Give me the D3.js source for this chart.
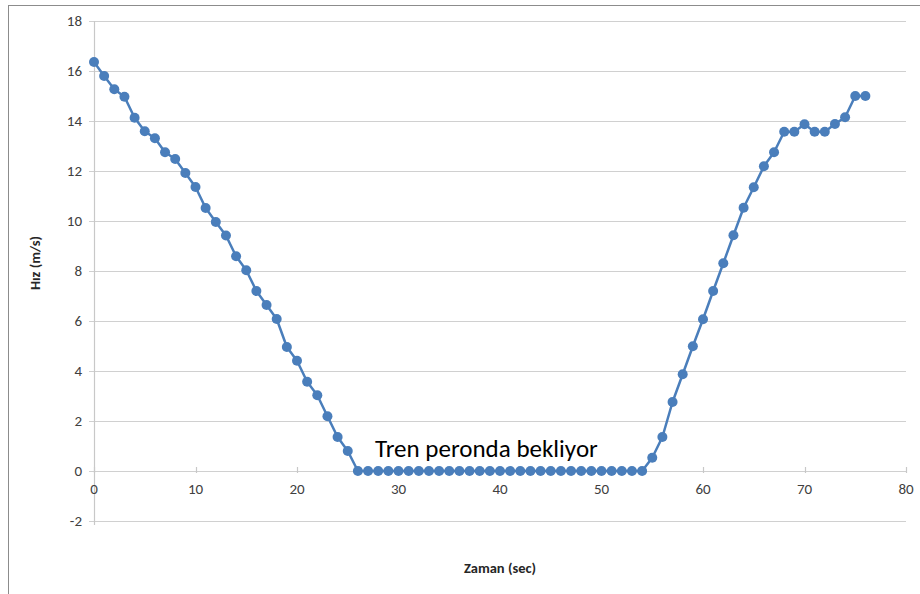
<!DOCTYPE html>
<html><head><meta charset="utf-8">
<script src="https://cdn.jsdelivr.net/npm/d3@7"></script>
<style>body{margin:0;background:#fff;} svg{display:block;}</style>
</head><body>
<svg id="c" width="920" height="594"></svg>
<script>
const times = d3.range(0, 77);
const speeds = [16.36,15.8,15.27,14.97,14.13,13.59,13.31,12.75,12.48,11.92,
11.36,10.52,9.96,9.42,8.59,8.03,7.2,6.64,6.08,4.96,
4.41,3.57,3.03,2.19,1.36,0.8,0,0,0,0,
0,0,0,0,0,0,0,0,0,0,
0,0,0,0,0,0,0,0,0,0,
0,0,0,0,0,0.53,1.36,2.76,3.87,4.99,
6.07,7.2,8.31,9.43,10.53,11.35,12.19,12.75,13.57,13.57,
13.87,13.57,13.57,13.88,14.15,15.0,15.0];
const xTicks = [0,10,20,30,40,50,60,70,80];
const yTicks = [-2,0,2,4,6,8,10,12,14,16,18];
const xTitle = "Zaman (sec)";
const yTitle = "Hız (m/s)";
const note = "Tren peronda bekliyor";

const svg = d3.select("#c");
const font = "Calibri, Carlito, 'Open Sans', sans-serif";
// outer chart frame
svg.append("rect").attr("x",8.5).attr("y",5.5).attr("width",1000).attr("height",1000)
  .attr("fill","none").attr("stroke","#8c8c8c").attr("stroke-width",1);

const x = d3.scaleLinear().domain([0,80]).range([94,906]);
const y = d3.scaleLinear().domain([-2,18]).range([521,21]);

// gridlines
svg.append("g").selectAll("line").data(yTicks).join("line")
  .attr("x1",x(0)-5).attr("x2",x(80))
  .attr("y1",d=>Math.round(y(d))+0.5).attr("y2",d=>Math.round(y(d))+0.5)
  .attr("stroke","#d0d0d0").attr("stroke-width",1.2);

// y axis line
svg.append("line").attr("x1",x(0)+0.5).attr("x2",x(0)+0.5)
  .attr("y1",y(18)).attr("y2",y(-2)+4).attr("stroke","#c8c8c8").attr("stroke-width",1.2);

// x axis ticks at y=0
svg.append("g").selectAll("line").data(xTicks).join("line")
  .attr("x1",d=>Math.round(x(d))+0.5).attr("x2",d=>Math.round(x(d))+0.5)
  .attr("y1",y(0)-4).attr("y2",y(0)+2).attr("stroke","#c8c8c8").attr("stroke-width",1.2);

// y tick labels
svg.append("g").selectAll("text").data(yTicks).join("text")
  .attr("x",82).attr("y",d=>y(d)).attr("dy","0.35em")
  .attr("text-anchor","end").attr("font-family",font).attr("font-size",15)
  .attr("fill","#404040").text(d=>d);

// x tick labels
svg.append("g").selectAll("text").data(xTicks).join("text")
  .attr("x",d=>x(d)).attr("y",y(0)+23)
  .attr("text-anchor","middle").attr("font-family",font).attr("font-size",15)
  .attr("fill","#404040").text(d=>d);

// titles
svg.append("text").attr("x",500).attr("y",573).attr("text-anchor","middle")
  .attr("font-family",font).attr("font-size",14.5).attr("font-weight","bold")
  .attr("fill","#262626").text(xTitle);
svg.append("text").attr("transform","translate(40,263) rotate(-90)").attr("text-anchor","middle")
  .attr("font-family",font).attr("font-size",14.5).attr("font-weight","bold")
  .attr("fill","#262626").text(yTitle);

// series
const pts = times.map((t,i)=>[t,speeds[i]]);
const color = "#4a7ebb";
svg.append("path").datum(pts)
  .attr("d",d3.line().x(d=>x(d[0])).y(d=>y(d[1])))
  .attr("fill","none").attr("stroke",color).attr("stroke-width",2.5).attr("stroke-linejoin","round");
svg.append("g").selectAll("circle").data(pts).join("circle")
  .attr("cx",d=>x(d[0])).attr("cy",d=>y(d[1])).attr("r",5).attr("fill",color);

// annotation
const t = svg.append("text").attr("x",375).attr("y",457)
  .attr("font-family",font).attr("font-size",21).attr("fill","#000").text(note);
const w = t.node().getComputedTextLength();
if (w > 0) t.attr("font-size", 21*223/w);
</script>
</body></html>
